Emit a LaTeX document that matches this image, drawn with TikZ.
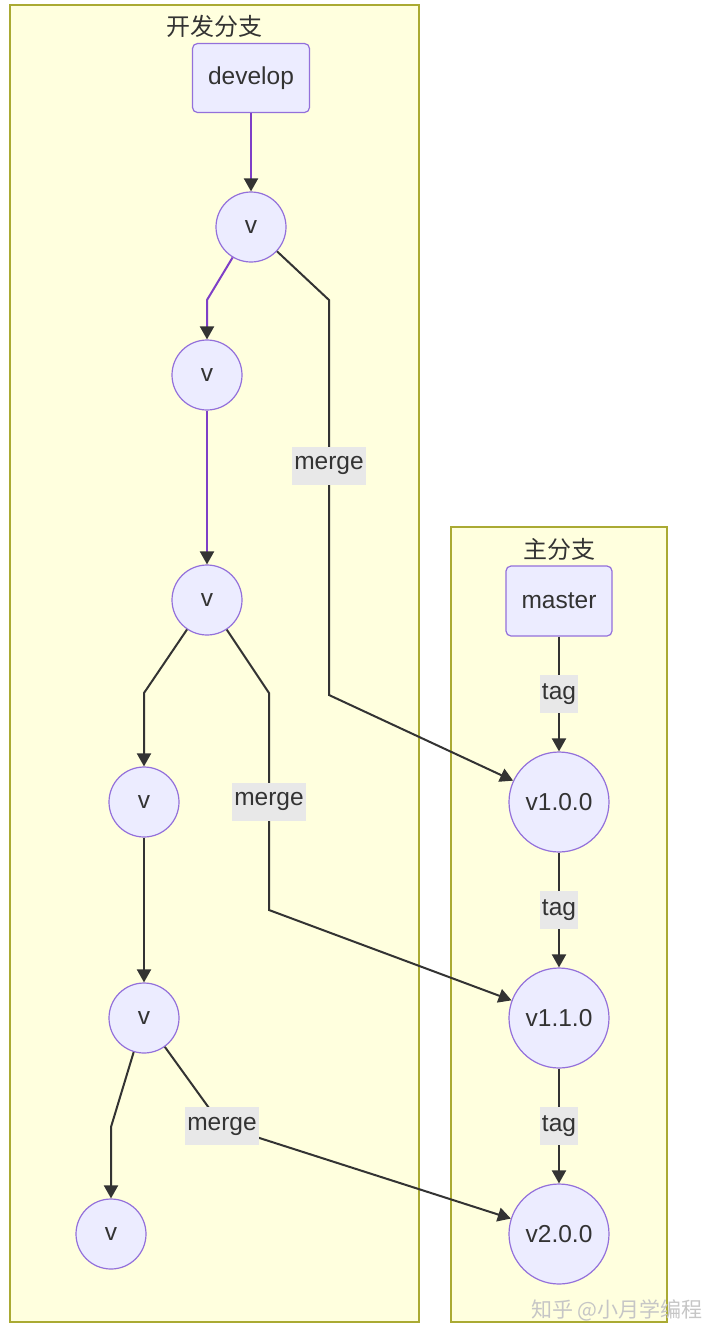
\documentclass[tikz,border=0pt]{standalone}
\usepackage{fontspec}
\setmainfont{Liberation Sans}
\newfontfamily\cjkfont{Noto Sans CJK SC}
\usetikzlibrary{arrows.meta, positioning}

\definecolor{clfill}{HTML}{FFFFDE}
\definecolor{cldraw}{HTML}{AAAA33}
\definecolor{ndfill}{HTML}{ECECFF}
\definecolor{nddraw}{HTML}{9370DB}
\definecolor{lnk}{HTML}{333333}
\definecolor{pur}{HTML}{7E3FC7}
\definecolor{lblfill}{HTML}{E8E8E8}

\tikzset{
    cluster/.style={fill=clfill, draw=cldraw, line width=1.2pt},
    ctitle/.style={font=\cjkfont\fontsize{24}{28}\selectfont, text=lnk},
    branch/.style={rectangle, rounded corners=5pt, fill=ndfill, draw=nddraw, line width=1.2pt,
        inner xsep=0pt, minimum width=117pt, minimum height=69pt, text=lnk},
    commit/.style={circle, fill=ndfill, draw=nddraw, line width=1.2pt, minimum size=70pt, inner sep=0pt, text=lnk},
    release/.style={commit, minimum size=100pt},
    link/.style={draw=lnk, line width=2pt, -{Triangle[length=13pt,width=14pt,color=lnk]}},
    plink/.style={link, draw=pur},
    lbl/.style={fill=lblfill, inner xsep=2pt, inner ysep=0pt, minimum height=38pt, text=lnk}
}

\begin{document}
\begin{tikzpicture}[x=1pt, y=-1pt, font=\fontsize{24.5}{28}\selectfont]
\useasboundingbox (0,0) rectangle (720,1342);
\fill[white] (0,0) rectangle (720,1342);

% clusters
\draw[cluster] (10,5) rectangle (419,1322);
\draw[cluster] (451,527) rectangle (667,1322);
\node[ctitle] (devtitle) at (214,26) {开发分支};
\node[ctitle] (msttitle) at (559,549) {主分支};

% develop branch
\node[branch] (dev) at (251,78) {develop};
\node[commit] (c1) at (251,227) {v};
\node[commit] (c2) at (207,375) {v};
\node[commit] (c3) at (207,600) {v};
\node[commit] (c4) at (144,802) {v};
\node[commit] (c5) at (144,1018) {v};
\node[commit] (c6) at (111,1234) {v};

% master branch
\node[branch, minimum width=106pt, minimum height=70pt] (mst) at (559,601) {master};
\node[release] (r100) at (559,802) {v1.0.0};
\node[release] (r110) at (559,1018) {v1.1.0};
\node[release] (r200) at (559,1234) {v2.0.0};

% commits
\draw[plink] (dev) -- (c1);
\draw[plink] (c1) -- (207,300) -- (c2);
\draw[plink] (c2) -- (c3);
\draw[link] (c3) -- (144,693) -- (c4);
\draw[link] (c4) -- (c5);
\draw[link] (c5) -- (111,1127) -- (c6);

% merges
\draw[link] (c1) -- (329,300) -- node[lbl, pos=0.42] {merge} (329,695) -- (r100);
\draw[link] (c3) -- (269,693) -- node[lbl] {merge} (269,910) -- (r110);
\draw[link] (c5) -- (222,1126) node[lbl] {merge} -- (r200);

% tags
\draw[link] (mst) -- node[lbl] {tag} (r100);
\draw[link] (r100) -- node[lbl] {tag} (r110);
\draw[link] (r110) -- node[lbl] {tag} (r200);

\node[font=\cjkfont\fontsize{21}{24}\selectfont, text=gray!45] (wm) at (617,1310) {知乎 @小月学编程};
\end{tikzpicture}
\end{document}
